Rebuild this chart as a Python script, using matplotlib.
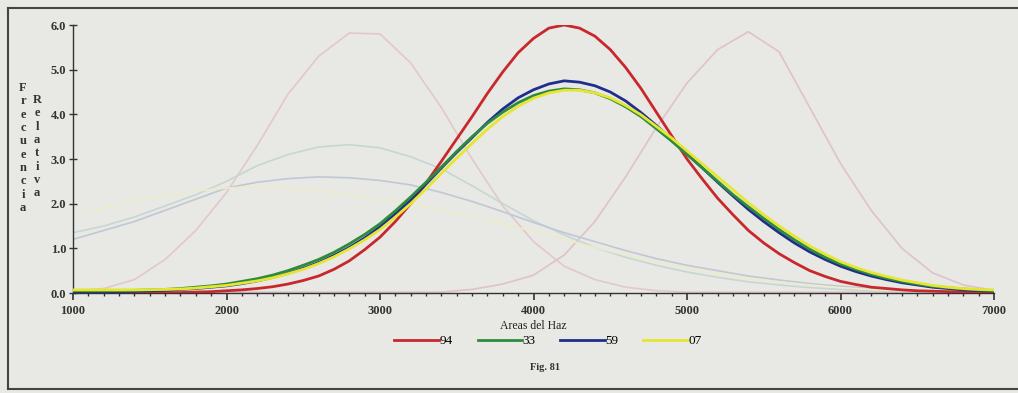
import numpy as np
import matplotlib
matplotlib.use('Agg')
import matplotlib.pyplot as plt
from matplotlib.lines import Line2D

plt.rcParams['font.family'] = ['Liberation Serif', 'DejaVu Serif']

# x positions (Areas del Haz)
areas = np.arange(1000, 7001, 100)

# series (frecuencia relativa), every 100
s94 = [0.0, 0.0, 0.0, 0.0, 0.0, 0.0, 0.01, 0.01, 0.02, 0.03,
       0.05, 0.07, 0.1, 0.14, 0.2, 0.28, 0.38, 0.53, 0.72, 0.97,
       1.25, 1.6, 2.0, 2.46, 2.95, 3.45, 3.95, 4.47, 4.95, 5.38,
       5.7, 5.93, 6.0, 5.93, 5.75, 5.45, 5.05, 4.58, 4.05, 3.52,
       3.0, 2.55, 2.12, 1.75, 1.4, 1.12, 0.88, 0.68, 0.5, 0.37,
       0.26, 0.19, 0.13, 0.1, 0.07, 0.05, 0.04, 0.03, 0.02, 0.015, 0.01]
s33 = [0.05, 0.05, 0.05, 0.055, 0.06, 0.07, 0.08, 0.1, 0.13, 0.16,
       0.2, 0.26, 0.32, 0.4, 0.5, 0.62, 0.75, 0.91, 1.1, 1.31,
       1.55, 1.84, 2.15, 2.48, 2.82, 3.17, 3.5, 3.8, 4.05, 4.26,
       4.42, 4.52, 4.57, 4.55, 4.48, 4.35, 4.17, 3.95, 3.68, 3.4,
       3.1, 2.8, 2.5, 2.2, 1.93, 1.67, 1.42, 1.19, 0.98, 0.8,
       0.65, 0.53, 0.42, 0.33, 0.26, 0.2, 0.15, 0.12, 0.09, 0.07, 0.05]
s59 = [0.03, 0.03, 0.03, 0.035, 0.04, 0.05, 0.06, 0.08, 0.1, 0.13,
       0.16, 0.21, 0.27, 0.35, 0.44, 0.55, 0.68, 0.84, 1.02, 1.23,
       1.48, 1.77, 2.08, 2.44, 2.8, 3.15, 3.48, 3.82, 4.12, 4.37,
       4.55, 4.68, 4.75, 4.72, 4.64, 4.5, 4.3, 4.04, 3.75, 3.44,
       3.12, 2.8, 2.48, 2.17, 1.87, 1.6, 1.35, 1.12, 0.92, 0.75,
       0.6, 0.48, 0.38, 0.3, 0.23, 0.18, 0.13, 0.1, 0.07, 0.055, 0.04]
s07 = [0.07, 0.07, 0.07, 0.07, 0.07, 0.075, 0.08, 0.09, 0.11, 0.14,
       0.17, 0.22, 0.27, 0.34, 0.43, 0.53, 0.66, 0.81, 0.99, 1.19,
       1.42, 1.7, 2.0, 2.33, 2.68, 3.02, 3.35, 3.67, 3.95, 4.18,
       4.36, 4.48, 4.54, 4.54, 4.48, 4.37, 4.2, 3.99, 3.73, 3.47,
       3.18, 2.89, 2.6, 2.31, 2.02, 1.75, 1.5, 1.27, 1.05, 0.87,
       0.7, 0.57, 0.46, 0.37, 0.29, 0.23, 0.17, 0.13, 0.1, 0.08, 0.07]

# faint curves showing through from the other side of the page, every 200
ghost_x = np.arange(1000, 7001, 200)
ghost_pink_a = [0.05, 0.1, 0.3, 0.75, 1.4, 2.25, 3.3, 4.45, 5.3, 5.82, 5.8, 5.15, 4.15, 3.0, 1.95,
                1.15, 0.6, 0.3, 0.13, 0.05, 0.02, 0.02, 0.02, 0.02, 0.02, 0.02, 0.02, 0.02, 0.02, 0.02, 0.02]
ghost_pink_b = [0.02, 0.02, 0.02, 0.02, 0.02, 0.02, 0.02, 0.02, 0.02, 0.02, 0.02, 0.02, 0.02, 0.08, 0.2,
                0.4, 0.85, 1.6, 2.6, 3.7, 4.7, 5.45, 5.85, 5.4, 4.15, 2.9, 1.85, 1.0, 0.45, 0.18, 0.06]
ghost_teal = [1.35, 1.5, 1.7, 1.95, 2.2, 2.5, 2.85, 3.1, 3.27, 3.32, 3.25, 3.05, 2.78, 2.4, 2.0,
              1.62, 1.3, 1.02, 0.8, 0.62, 0.47, 0.35, 0.25, 0.18, 0.12, 0.08, 0.05, 0.03, 0.02, 0.01, 0.01]
ghost_slate = [1.2, 1.4, 1.6, 1.85, 2.1, 2.35, 2.48, 2.56, 2.6, 2.58, 2.52, 2.42, 2.25, 2.05, 1.82,
               1.58, 1.35, 1.15, 0.95, 0.77, 0.62, 0.5, 0.38, 0.29, 0.21, 0.15, 0.1, 0.06, 0.04, 0.02, 0.01]
ghost_yellow = [1.75, 1.9, 2.05, 2.18, 2.28, 2.35, 2.38, 2.36, 2.3, 2.2, 2.1, 1.98, 1.85, 1.7, 1.55,
                1.38, 1.2, 1.02, 0.85, 0.7, 0.56, 0.44, 0.33, 0.25, 0.18, 0.12, 0.08, 0.05, 0.03, 0.02, 0.01]

labels = ['94', '33', '59', '07']
colors = ['#c8282c', '#2e8b3c', '#1f2e8c', '#e6e632']

bg = '#e8e8e5'
fig = plt.figure(figsize=(10.18, 3.93), dpi=100, facecolor=bg)
ax = fig.add_axes([73 / 1018, 1 - 293 / 393, 921 / 1018, 268 / 393])
ax.set_facecolor(bg)

for g, c in [(ghost_pink_a, '#e2c8cd'), (ghost_pink_b, '#e0c2c8'), (ghost_teal, '#c6d7d3'),
             (ghost_slate, '#c0c8d5'), (ghost_yellow, '#ecebcb')]:
    ax.plot(ghost_x, g, color=c, lw=1.2, zorder=1)

series = [s94, s33, s59, s07]
for z, i in enumerate([0, 2, 1, 3]):
    ax.plot(areas, series[i], color=colors[i], lw=2.0, zorder=3 + z,
            solid_joinstyle='round')

ax.set_xlim(1000, 7000)
ax.set_ylim(0, 6)
ax.set_xticks(range(1000, 7001, 1000))
ax.set_xticks(range(1000, 7001, 100), minor=True)
ax.set_yticks(np.arange(0, 6.01, 1.0))
ax.set_yticklabels([f'{v:.1f}' for v in np.arange(0, 6.01, 1.0)])
for sp in ['top', 'right']:
    ax.spines[sp].set_visible(False)
for sp in ['left', 'bottom']:
    ax.spines[sp].set_color('#333333')
    ax.spines[sp].set_linewidth(1.0)
ax.tick_params(axis='x', which='major', direction='out', length=5, width=1.2, pad=4,
               labelsize=9, colors='#333333')
ax.tick_params(axis='x', which='minor', direction='out', length=2.5, width=1.0, colors='#333333')
ax.tick_params(axis='y', direction='inout', length=6, width=1.0, pad=2, labelsize=9, colors='#333333')
for t in ax.get_xticklabels() + ax.get_yticklabels():
    t.set_fontweight('bold')

ax.set_xlabel('Areas del Haz', fontsize=8.5, labelpad=2, color='#222222')

fig.text(23 / 1018, 1 - 82 / 393, '\n'.join('Frecuencia'), fontsize=9, fontweight='bold',
         ha='center', va='top', linespacing=1.15, color='#333333')
fig.text(37 / 1018, 1 - 94 / 393, '\n'.join('Relativa'), fontsize=9, fontweight='bold',
         ha='center', va='top', linespacing=1.15, color='#333333')

handles = [Line2D([], [], color=colors[i], lw=2.0) for i in range(4)]
fig.legend(handles, labels, loc='center', bbox_to_anchor=(548 / 1018, 1 - 341 / 393), ncol=4,
           frameon=False, handlelength=3.4, handletextpad=0.0, columnspacing=1.9,
           prop={'size': 9.5})

fig.text(545 / 1018, 1 - 367 / 393, 'Fig. 81', fontsize=7.5, fontweight='bold',
         ha='center', va='center', color='#333333')

# outer frame of the scanned figure
fig.add_artist(Line2D([8 / 1018, 8 / 1018], [1 - 8 / 393, 1 - 389 / 393], transform=fig.transFigure,
                      color='#444444', lw=1.5))
fig.add_artist(Line2D([8 / 1018, 1.0], [1 - 8 / 393, 1 - 8 / 393], transform=fig.transFigure,
                      color='#444444', lw=1.5))
fig.add_artist(Line2D([8 / 1018, 1.0], [1 - 389 / 393, 1 - 389 / 393], transform=fig.transFigure,
                      color='#444444', lw=1.5))

fig.savefig('out.png', dpi=100, facecolor=bg)
